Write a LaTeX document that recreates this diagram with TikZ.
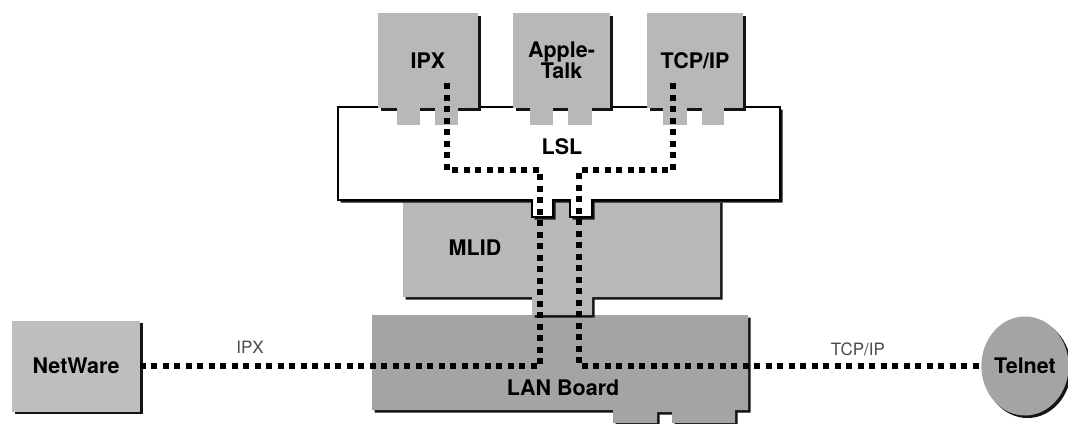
\documentclass[tikz,border=0pt]{standalone}
\usepackage{fontspec}
\setmainfont{TeX Gyre Heros}
\usetikzlibrary{shapes.geometric}
\definecolor{PlugGray}{HTML}{B8B8B8}
\definecolor{BoardGray}{HTML}{A4A4A4}
\definecolor{WareGray}{HTML}{BEBEBE}
\definecolor{ShadeDark}{HTML}{141414}
\definecolor{LabelGray}{HTML}{4A4A4A}
\begin{document}
\begin{tikzpicture}[x=1pt, y=-1pt, every node/.style={font=\fontsize{21.5}{21}\selectfont\bfseries}, castshadow/.style={preaction={fill=ShadeDark, transform canvas={shift={(2.5pt,-2.5pt)}}}}, proto/.style={fill=PlugGray, castshadow, minimum width=#1, minimum height=95pt, inner sep=0pt, align=center}, tab/.style={fill=PlugGray}, lbl/.style={font=\fontsize{17}{18}\selectfont, text=LabelGray}, route/.style={line width=5.5pt, dash pattern=on 6pt off 5.5pt, black}]
\fill[white] (0,0) rectangle (1068,423);
\useasboundingbox (0,0) rectangle (1068,423);
% boards, back to front
\fill[BoardGray, castshadow] (372,315) -- (748,315) -- (748,410) -- (735,410) -- (735,423) -- (672,423) -- (672,412) -- (657,412) -- (657,423) -- (613,423) -- (613,410) -- (372,410) -- cycle;
\fill[PlugGray, castshadow] (403,200) -- (720,200) -- (720,297) -- (592,297) -- (592,315) -- (532,315) -- (532,297) -- (403,297) -- cycle;
\filldraw[fill=white, draw=black, line width=1.5pt, castshadow] (338,107) -- (780,107) -- (780,200) -- (592,200) -- (592,217) -- (570,217) -- (570,200) -- (553,200) -- (553,217) -- (532,217) -- (532,200) -- (338,200) -- cycle;
% protocol stacks
\node[proto=100pt] (ipx) at (428,60.5) {IPX};
\node[proto=97pt] (atalk) at (561.5,60.5) {Apple-\\Talk};
\node[proto=96pt] (tcpip) at (695,60.5) {TCP/IP};
\fill[tab] (397,107) rectangle (420,125);
\fill[tab] (435,107) rectangle (458,125);
\fill[tab] (530,107) rectangle (553,125);
\fill[tab] (568,107) rectangle (592,125);
\fill[tab] (663,107) rectangle (687,125);
\fill[tab] (702,107) rectangle (724,125);
\node (lsl) at (562,147) {LSL};
\node (mlid) at (475,248) {MLID};
\node (lan) at (563,388) {LAN Board};
% end stations
\node[fill=WareGray, castshadow, minimum width=128pt, minimum height=91pt, inner sep=0pt] (netware) at (76,366) {NetWare};
\node[ellipse, fill=BoardGray, castshadow, minimum width=84pt, minimum height=99pt, inner sep=0pt] (telnet) at (1025,366) {Telnet};
% data paths
\coordinate (ipxport) at (447,83);
\coordinate (ipxdrop) at (540,170);
\coordinate (tcpport) at (673,83);
\coordinate (tcpdrop) at (579,170);
\draw[route] (ipxport) |- (ipxdrop) |- (netware.east);
\draw[route] (tcpport) |- (tcpdrop) |- (telnet.west);
\node[lbl] (ipxlbl) at (250,347) {IPX};
\node[lbl] (tcplbl) at (858,349) {TCP/IP};
\end{tikzpicture}
\end{document}
